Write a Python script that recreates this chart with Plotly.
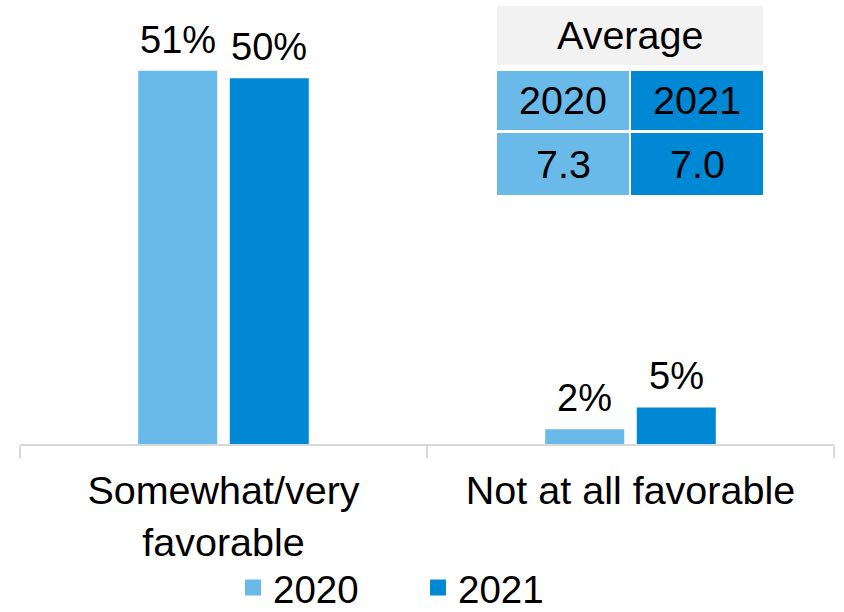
import plotly.graph_objects as go

# --- data ---------------------------------------------------------------
categories = ["Somewhat/very<br>favorable", "Not at all favorable"]
years = ["2020", "2021"]
share_2020 = [51, 2]
share_2021 = [50, 5]
avg_scores = [7.3, 7.0]

colors = {"2020": "#69BAE9", "2021": "#0088D5"}
font_family = "Liberation Sans, Arial, sans-serif"
FS = 38

W, H = 844, 612
ML, MR, MT, MB = 20, 10, 5, 168
PW, PH = W - ML - MR, H - MT - MB
BARGAP, GROUPGAP = 0.55, 0.137


def fx(p):
    """pixel x -> paper x"""
    return (p - ML) / PW


def fy(p):
    """pixel y (from top) -> paper y"""
    return (H - MB - p) / PH


fig = go.Figure()
annotations = []

# horizontal offset of each bar centre within its category group (pixels)
cat_px = PW / len(categories)
slot_px = cat_px * (1 - BARGAP) / len(years)
offsets = [(i - (len(years) - 1) / 2) * slot_px for i in range(len(years))]

for yr, vals, dx in zip(years, [share_2020, share_2021], offsets):
    fig.add_trace(go.Bar(
        x=categories, y=vals, name=yr,
        marker=dict(color=colors[yr], line=dict(width=0)),
        showlegend=False,
    ))
    # value labels above each bar
    for cat, v in zip(categories, vals):
        annotations.append(dict(
            x=cat, y=v, xref="x", yref="y", text=f"{v}%", showarrow=False,
            xanchor="center", yanchor="middle", xshift=dx, yshift=31,
            font=dict(size=FS, color="black", family=font_family)))
    # square legend swatch
    fig.add_trace(go.Scatter(
        x=[None], y=[None], mode="markers", name=yr,
        marker=dict(symbol="square", size=20, color=colors[yr]),
        showlegend=True,
    ))

# --- "Average" table in the upper right ---------------------------------
shapes = []
left, mid_l, mid_r, right = 497, 629, 631, 763
rows = [(6, 65), (71, 130), (133, 195)]
TFS = 39.5

shapes.append(dict(type="rect", xref="paper", yref="paper",
                   x0=fx(left), x1=fx(right), y0=fy(rows[0][1]), y1=fy(rows[0][0]),
                   fillcolor="#F2F2F2", line=dict(width=0), layer="below"))
annotations.append(dict(text="Average", xref="paper", yref="paper",
                        x=fx((left + right) / 2), y=fy(sum(rows[0]) / 2),
                        showarrow=False, xanchor="center", yanchor="middle",
                        font=dict(size=TFS, color="black", family=font_family)))

for (x0, x1), yr, score in zip([(left, mid_l), (mid_r, right)], years, avg_scores):
    for (r0, r1), label in zip(rows[1:], [yr, f"{score:.1f}"]):
        shapes.append(dict(type="rect", xref="paper", yref="paper",
                           x0=fx(x0), x1=fx(x1), y0=fy(r1), y1=fy(r0),
                           fillcolor=colors[yr], line=dict(width=0), layer="below"))
        annotations.append(dict(text=label, xref="paper", yref="paper",
                                x=fx((x0 + x1) / 2), y=fy((r0 + r1) / 2),
                                showarrow=False, xanchor="center", yanchor="middle",
                                font=dict(size=TFS, color="black", family=font_family)))

fig.update_layout(
    width=W, height=H,
    margin=dict(l=ML, r=MR, t=MT, b=MB, autoexpand=False),
    paper_bgcolor="white", plot_bgcolor="white",
    barmode="group", bargap=BARGAP, bargroupgap=GROUPGAP,
    font=dict(family=font_family, size=FS, color="black"),
    shapes=shapes, annotations=annotations,
    legend=dict(orientation="h", x=fx(233), xanchor="left",
                y=fy(620), yanchor="bottom",
                font=dict(size=38.5, color="black", family=font_family),
                entrywidth=140, itemsizing="trace",
                bgcolor="rgba(0,0,0,0)"),
    xaxis=dict(showline=True, linecolor="#D9D9D9", linewidth=1.5,
               ticks="outside", tickson="boundaries", ticklen=12,
               tickcolor="#D9D9D9", tickwidth=1.5, ticklabelstandoff=11,
               tickfont=dict(size=39.5, color="black", family=font_family),
               showgrid=False, fixedrange=True),
    yaxis=dict(range=[0, 60], visible=False, showgrid=False, fixedrange=True),
)

fig.write_html("out.html")
